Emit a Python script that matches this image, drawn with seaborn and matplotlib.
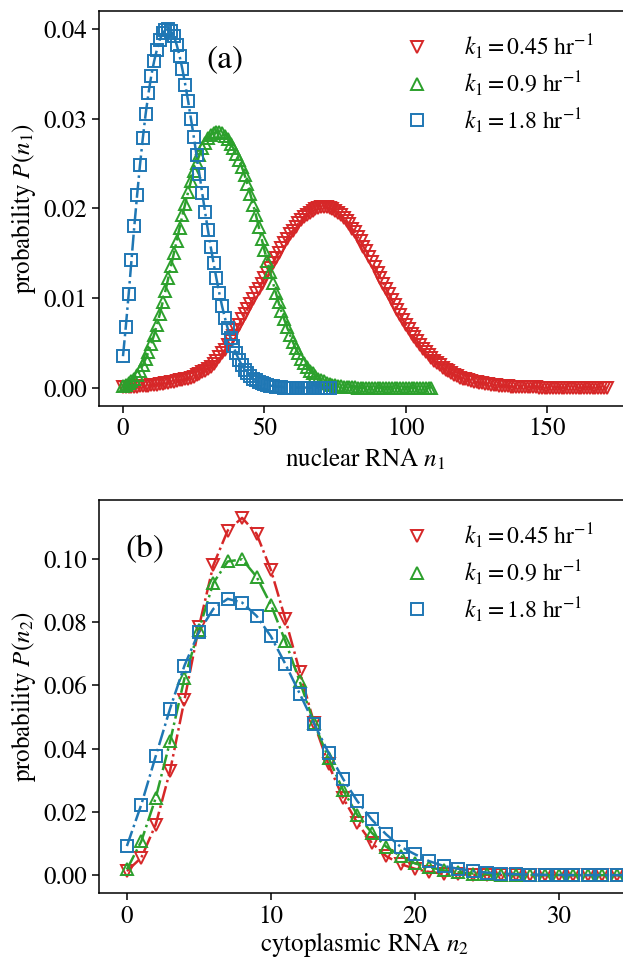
# Nuclear and cytoplasmic RNA count distributions for three export rates k1.
import matplotlib

matplotlib.use("Agg")
import matplotlib.pyplot as plt
import seaborn as sns
from matplotlib.lines import Line2D

labels = [r"$k_1 = 0.45\ \mathrm{hr}^{-1}$",
          r"$k_1 = 0.9\ \mathrm{hr}^{-1}$",
          r"$k_1 = 1.8\ \mathrm{hr}^{-1}$"]

# panel (a): nuclear RNA n1, P(n1) for n1 = 0, 1, 2, ...
p1_slow = [0.0001, 0.0001, 0.0001, 0.0001, 0.0001, 0.0001, 0.0002, 0.0002, 0.0002, 0.0002,
           0.0003, 0.0003, 0.0003, 0.0004, 0.0004, 0.0005, 0.0005, 0.0006, 0.0006, 0.0007,
           0.0008, 0.0008, 0.0009, 0.0010, 0.0011, 0.0012, 0.0014, 0.0015, 0.0017, 0.0019,
           0.0021, 0.0023, 0.0026, 0.0030, 0.0034, 0.0038, 0.0042, 0.0047, 0.0052, 0.0058,
           0.0064, 0.0070, 0.0076, 0.0082, 0.0088, 0.0093, 0.0099, 0.0105, 0.0110, 0.0116,
           0.0122, 0.0128, 0.0133, 0.0139, 0.0145, 0.0150, 0.0156, 0.0161, 0.0166, 0.0171,
           0.0175, 0.0179, 0.0183, 0.0187, 0.0190, 0.0193, 0.0195, 0.0197, 0.0199, 0.0200,
           0.0201, 0.0201, 0.0201, 0.0200, 0.0199, 0.0197, 0.0195, 0.0192, 0.0189, 0.0186,
           0.0182, 0.0177, 0.0173, 0.0168, 0.0163, 0.0157, 0.0152, 0.0146, 0.0140, 0.0134,
           0.0128, 0.0122, 0.0116, 0.0110, 0.0104, 0.0098, 0.0092, 0.0086, 0.0081, 0.0075,
           0.0070, 0.0065, 0.0060, 0.0056, 0.0052, 0.0047, 0.0043, 0.0040, 0.0036, 0.0033,
           0.0030, 0.0027, 0.0025, 0.0022, 0.0020, 0.0018, 0.0016, 0.0014, 0.0013, 0.0011,
           0.0010, 0.0009, 0.0008, 0.0007, 0.0006, 0.0006, 0.0005, 0.0005, 0.0004, 0.0004,
           0.0003, 0.0003, 0.0003, 0.0002, 0.0002, 0.0002, 0.0002, 0.0001, 0.0001, 0.0001,
           0.0001, 0.0001, 0.0001, 0.0001, 0.0001, 0.0001, 0.0001, 0.0000, 0.0000, 0.0000,
           0.0000, 0.0000, 0.0000, 0.0000, 0.0000, 0.0000, 0.0000, 0.0000, 0.0000, 0.0000,
           0.0000, 0.0000, 0.0000, 0.0000, 0.0000, 0.0000, 0.0000, 0.0000, 0.0000, 0.0000,
           0.0000, 0.0000]
p1_mid = [0.0002, 0.0003, 0.0005, 0.0007, 0.0010, 0.0014, 0.0019, 0.0025, 0.0032, 0.0040,
          0.0049, 0.0059, 0.0070, 0.0082, 0.0095, 0.0108, 0.0122, 0.0136, 0.0150, 0.0164,
          0.0178, 0.0192, 0.0205, 0.0218, 0.0230, 0.0241, 0.0251, 0.0259, 0.0267, 0.0273,
          0.0278, 0.0282, 0.0284, 0.0285, 0.0285, 0.0284, 0.0281, 0.0277, 0.0272, 0.0267,
          0.0261, 0.0254, 0.0246, 0.0237, 0.0227, 0.0216, 0.0204, 0.0192, 0.0179, 0.0166,
          0.0153, 0.0141, 0.0129, 0.0117, 0.0106, 0.0095, 0.0085, 0.0076, 0.0067, 0.0059,
          0.0051, 0.0044, 0.0038, 0.0032, 0.0027, 0.0023, 0.0019, 0.0016, 0.0013, 0.0010,
          0.0008, 0.0007, 0.0005, 0.0004, 0.0003, 0.0003, 0.0002, 0.0002, 0.0001, 0.0001,
          0.0001, 0.0001, 0.0001, 0.0000, 0.0000, 0.0000, 0.0000, 0.0000, 0.0000, 0.0000,
          0.0000, 0.0000, 0.0000, 0.0000, 0.0000, 0.0000, 0.0000, 0.0000, 0.0000, 0.0000,
          0.0000, 0.0000, 0.0000, 0.0000, 0.0000, 0.0000, 0.0000, 0.0000, 0.0000, 0.0000]
p1_fast = [0.0035, 0.0068, 0.0104, 0.0142, 0.0180, 0.0215, 0.0248, 0.0278, 0.0305, 0.0328,
           0.0348, 0.0364, 0.0377, 0.0388, 0.0395, 0.0399, 0.0400, 0.0398, 0.0392, 0.0382,
           0.0370, 0.0355, 0.0338, 0.0320, 0.0300, 0.0280, 0.0259, 0.0238, 0.0217, 0.0196,
           0.0176, 0.0157, 0.0139, 0.0122, 0.0106, 0.0091, 0.0078, 0.0066, 0.0055, 0.0046,
           0.0038, 0.0031, 0.0025, 0.0020, 0.0016, 0.0013, 0.0010, 0.0008, 0.0006, 0.0005,
           0.0004, 0.0003, 0.0002, 0.0002, 0.0001, 0.0001, 0.0001, 0.0000, 0.0000, 0.0000,
           0.0000, 0.0000, 0.0000, 0.0000, 0.0000, 0.0000, 0.0000, 0.0000, 0.0000, 0.0000,
           0.0000, 0.0000, 0.0000, 0.0000]

# panel (b): cytoplasmic RNA n2, P(n2) for n2 = 0..39
p2_slow = [0.0013, 0.0055, 0.0160, 0.0330, 0.0555, 0.0785, 0.0980, 0.1090, 0.1130, 0.1080,
           0.0965, 0.0810, 0.0644, 0.0480, 0.0350, 0.0245, 0.0165, 0.0102, 0.0060, 0.0035,
           0.0020, 0.0010, 0.0005, 0.0003, 0.0001, 0.0001, 0.0000, 0.0000, 0.0000, 0.0000,
           0.0000, 0.0000, 0.0000, 0.0000, 0.0000, 0.0000, 0.0000, 0.0000, 0.0000, 0.0000]
p2_mid = [0.0018, 0.0107, 0.0244, 0.0423, 0.0623, 0.0776, 0.0924, 0.0992, 0.0999, 0.0944,
          0.0855, 0.0740, 0.0613, 0.0480, 0.0370, 0.0270, 0.0190, 0.0134, 0.0090, 0.0060,
          0.0037, 0.0025, 0.0015, 0.0009, 0.0005, 0.0003, 0.0002, 0.0001, 0.0000, 0.0000,
          0.0000, 0.0000, 0.0000, 0.0000, 0.0000, 0.0000, 0.0000, 0.0000, 0.0000, 0.0000]
p2_fast = [0.0092, 0.0223, 0.0376, 0.0527, 0.0663, 0.0769, 0.0842, 0.0874, 0.0862, 0.0820,
           0.0755, 0.0668, 0.0574, 0.0479, 0.0387, 0.0305, 0.0234, 0.0176, 0.0129, 0.0090,
           0.0066, 0.0044, 0.0029, 0.0020, 0.0013, 0.0008, 0.0005, 0.0003, 0.0002, 0.0001,
           0.0001, 0.0000, 0.0000, 0.0000, 0.0000, 0.0000, 0.0000, 0.0000, 0.0000, 0.0000]

colors = ["#d62728", "#2ca02c", "#1f77b4"]
markers = ["v", "^", "s"]

sns.set_theme(style="ticks")
plt.rcParams["font.family"] = ["STIXGeneral", "Liberation Serif", "DejaVu Serif"]
plt.rcParams["mathtext.fontset"] = "stix"
plt.rcParams.update({"axes.linewidth": 1.1, "xtick.major.size": 5, "ytick.major.size": 5,
                     "xtick.major.width": 1.1, "ytick.major.width": 1.1,
                     "axes.edgecolor": "black", "text.color": "black",
                     "axes.labelcolor": "black", "xtick.color": "black",
                     "ytick.color": "black"})

fig = plt.figure(figsize=(6.23, 9.59), dpi=100)
W = 623.0
H = 959.0
ax_a = fig.add_axes([98.8 / W, 1 - 405.5 / H, 532.2 / W, 394.5 / H])
ax_b = fig.add_axes([98.8 / W, 1 - 893.0 / H, 532.2 / W, 393.0 / H])


def draw(ax, series, ms):
    for ys, c, m in zip(series, colors, markers):
        sns.lineplot(x=list(range(len(ys))), y=ys, ax=ax, color=c, linestyle="-.", lw=1.8,
                     marker=m, markersize=ms, markerfacecolor="none", markeredgecolor=c,
                     markeredgewidth=1.4, estimator=None)
    handles = [Line2D([], [], linestyle="", marker=m, markersize=ms, markerfacecolor="none",
                      markeredgecolor=c, markeredgewidth=1.4) for c, m in zip(colors, markers)]
    ax.legend(handles, labels, loc="upper right", frameon=False, fontsize=17,
              handlelength=2.0, handletextpad=1.0, labelspacing=0.34,
              bbox_to_anchor=(0.97, 1.0))
    ax.tick_params(labelsize=18)


draw(ax_a, [p1_slow, p1_mid, p1_fast], 8)
ax_a.set_xlabel(r"nuclear RNA $n_1$", fontsize=18)
ax_a.set_ylabel(r"probability $P(n_1)$", fontsize=18)
ax_a.text(0.237, 0.876, "(a)", transform=ax_a.transAxes, fontsize=24, ha="center", va="center")

draw(ax_b, [p2_slow, p2_mid, p2_fast], 9)
ax_b.set_xlim(-1.95, 35)
ax_b.set_xlabel(r"cytoplasmic RNA $n_2$", fontsize=18, labelpad=1)
ax_b.set_ylabel(r"probability $P(n_2)$", fontsize=18)
ax_b.text(0.086, 0.873, "(b)", transform=ax_b.transAxes, fontsize=24, ha="center", va="center")

fig.savefig("out.png", dpi=100)
